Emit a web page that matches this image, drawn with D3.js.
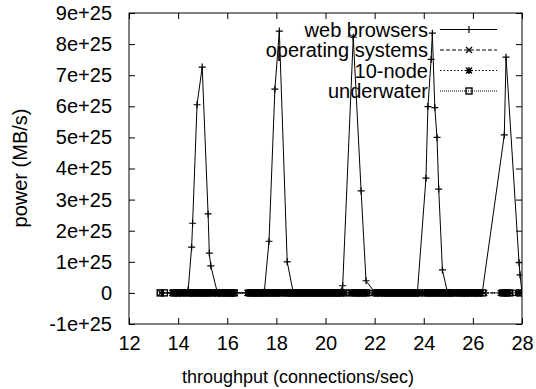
<!DOCTYPE html>
<html><head><meta charset="utf-8">
<script src="https://cdn.jsdelivr.net/npm/d3@7"></script>
<style>body{margin:0;background:#fff;} text{font-family:"Liberation Sans",Arial,sans-serif;}</style>
</head><body>
<svg id="chart" width="536" height="389"></svg>
<script>
const seriesNames = ["web browsers", "operating systems", "10-node", "underwater"];
const xTicks = [12, 14, 16, 18, 20, 22, 24, 26, 28];
const yTicks = [-1e25, 0, 1e25, 2e25, 3e25, 4e25, 5e25, 6e25, 7e25, 8e25, 9e25];
const yTickLabels = ["-1e+25", "0", "1e+25", "2e+25", "3e+25", "4e+25", "5e+25", "6e+25", "7e+25", "8e+25", "9e+25"];

// web browsers (x, value in units of 1e25)
const webX = [13.35, 13.80, 13.92, 14.05, 14.18, 14.30, 14.41, 14.55, 14.59, 14.77, 14.98, 15.22, 15.27, 15.33, 15.60, 15.72, 15.86, 16.00, 16.12, 16.26,
  16.84, 16.98, 17.12, 17.26, 17.40, 17.51, 17.70, 17.94, 18.12, 18.44, 18.69, 18.80, 18.94, 19.08, 19.22, 19.36, 19.50, 19.64, 19.78, 19.92, 20.06, 20.20, 20.34, 20.48, 20.56,
  20.70, 21.13, 21.45, 21.65, 22.02, 22.16, 22.30, 22.44, 22.58, 22.72, 22.86, 23.00, 23.14, 23.28, 23.42, 23.56, 23.74,
  24.09, 24.17, 24.30, 24.35, 24.45, 24.54, 24.61, 24.76, 24.97, 25.10, 25.24, 25.38, 25.52, 25.66, 25.80, 25.94, 26.08, 26.22, 26.38,
  27.28, 27.35, 27.88, 27.92, 28.00];
const webY = [0, 0, 0, 0, 0, 0, 0.10, 1.47, 2.24, 6.05, 7.26, 2.54, 1.28, 0.87, 0, 0, 0, 0, 0, 0,
  0, 0, 0, 0, 0, 0.04, 1.66, 6.55, 8.42, 1.00, 0, 0, 0, 0, 0, 0, 0, 0, 0, 0, 0, 0, 0, 0, 0,
  0.23, 8.22, 3.28, 0.39, 0, 0, 0, 0, 0, 0, 0, 0, 0, 0, 0, 0, 0,
  3.69, 5.99, 7.51, 8.35, 5.96, 5.00, 3.34, 0.74, 0, 0, 0, 0, 0, 0, 0, 0, 0, 0, 0,
  5.08, 7.58, 0.97, 0.58, 0];

const osX = [13.30, 13.78, 13.90, 14.02, 14.14, 14.32, 14.45, 14.58, 14.72, 14.86, 15.00, 15.14, 15.28, 15.40, 15.55, 15.70, 15.85, 16.00, 16.15, 16.30,
  16.82, 16.95, 17.08, 17.22, 17.36, 17.50, 17.64, 17.78, 17.92, 18.06, 18.20, 18.30, 18.44, 18.58, 18.72, 18.86, 19.00, 19.14, 19.28, 19.42, 19.56, 19.70, 19.84, 19.98,
  20.12, 20.26, 20.40, 20.54, 20.64, 20.80, 21.03, 21.17, 21.31, 21.45, 21.59, 21.71, 21.96, 22.18, 22.32, 22.46, 22.60, 22.74, 22.88, 23.02, 23.16, 23.30, 23.44, 23.58,
  23.72, 23.84, 24.00, 24.14, 24.28, 24.42, 24.56, 24.70, 24.84, 24.98, 25.12, 25.25, 25.37, 25.51, 25.65, 25.78, 25.98, 26.12, 26.26, 26.46, 27.13, 27.27, 27.41, 27.55, 27.81, 27.97];
const osY = osX.map(() => 0);

const nodeX = [13.76, 13.95, 14.10, 14.20, 14.36, 14.50, 14.64, 14.78, 14.92, 15.06, 15.20, 15.34, 15.52, 15.66, 15.80, 15.94, 16.08, 16.22,
  16.86, 17.00, 17.14, 17.28, 17.42, 17.56, 17.70, 17.84, 17.98, 18.12, 18.35, 18.49, 18.63, 18.77, 18.91, 19.05, 19.19, 19.33, 19.47, 19.61, 19.75, 19.89,
  20.03, 20.17, 20.31, 20.45, 20.60, 20.75, 21.08, 21.22, 21.36, 21.50, 21.64, 22.00, 22.14, 22.36, 22.50, 22.64, 22.78, 22.92, 23.06, 23.20, 23.34, 23.48, 23.62,
  23.78, 24.04, 24.18, 24.32, 24.46, 24.60, 24.74, 24.88, 25.02, 25.16, 25.40, 25.54, 25.68, 25.85, 26.02, 26.16, 26.32, 27.18, 27.32, 27.46, 27.85];
const nodeY = nodeX.map(() => 0);

const waterX = [13.27, 13.44, 13.82, 13.98, 14.16, 14.40, 14.54, 14.68, 14.82, 14.96, 15.10, 15.24, 15.38, 15.58, 15.74, 15.90, 16.04, 16.18, 16.28,
  16.90, 17.04, 17.18, 17.32, 17.46, 17.60, 17.74, 17.88, 18.02, 18.16, 18.40, 18.54, 18.68, 18.82, 18.96, 19.10, 19.24, 19.38, 19.52, 19.66, 19.80, 19.94,
  20.08, 20.22, 20.36, 20.50, 20.62, 20.84, 21.12, 21.26, 21.40, 21.54, 21.68, 22.06, 22.20, 22.40, 22.54, 22.68, 22.82, 22.96, 23.10, 23.24, 23.38, 23.52, 23.66,
  23.82, 24.08, 24.22, 24.36, 24.50, 24.64, 24.78, 24.92, 25.06, 25.20, 25.44, 25.58, 25.72, 25.88, 26.06, 26.20, 26.40, 27.22, 27.36, 27.50, 27.90];
const waterY = waterX.map(() => 0);

const svg = d3.select("#chart");
const L = 129, R = 522, T = 13, B = 324;
const x = d3.scaleLinear().domain([12, 28]).range([L, R]);
const y = d3.scaleLinear().domain([-1e25, 9e25]).range([B, T]);
const FS = 20;

svg.append("defs").append("clipPath").attr("id", "clip")
  .append("rect").attr("x", L).attr("y", T).attr("width", R - L).attr("height", B - T);

// axes with inward ticks (mirrored)
const tl = 6;
const gx = svg.append("g").attr("transform", `translate(0,${B})`)
  .call(d3.axisBottom(x).tickValues(xTicks).tickFormat(d3.format("d")).tickSizeInner(-tl).tickSizeOuter(0).tickPadding(tl + 6));
const gxt = svg.append("g").attr("transform", `translate(0,${T})`)
  .call(d3.axisTop(x).tickValues(xTicks).tickFormat("").tickSizeInner(-tl).tickSizeOuter(0));
const gy = svg.append("g").attr("transform", `translate(${L},0)`)
  .call(d3.axisLeft(y).tickValues(yTicks).tickFormat((d, i) => yTickLabels[i]).tickSizeInner(-tl).tickSizeOuter(0).tickPadding(tl + 11));
const gyr = svg.append("g").attr("transform", `translate(${R},0)`)
  .call(d3.axisRight(y).tickValues(yTicks).tickFormat("").tickSizeInner(-tl).tickSizeOuter(0));
[gx, gxt, gy, gyr].forEach(g => {
  g.select(".domain").remove();
  g.selectAll("line").attr("stroke", "#000");
  g.selectAll("text").attr("font-size", FS).attr("fill", "#000").attr("font-family", "Liberation Sans, Arial, sans-serif");
});
gx.selectAll("text").attr("dy", "0.71em");

svg.append("rect").attr("x", L).attr("y", T).attr("width", R - L).attr("height", B - T)
  .attr("fill", "none").attr("stroke", "#000").attr("stroke-width", 1);

// axis titles
svg.append("text").attr("x", 298).attr("y", 383).attr("text-anchor", "middle")
  .attr("font-size", 18).text("throughput (connections/sec)");
svg.append("text").attr("transform", "translate(27,168) rotate(-90)").attr("text-anchor", "middle")
  .attr("font-size", FS).text("power (MB/s)");

// marker helpers
function marker(g, type, cx, cy) {
  const s = 3.5;
  if (type === "plus") {
    g.append("path").attr("d", `M${cx - s},${cy}H${cx + s}M${cx},${cy - s}V${cy + s}`).attr("stroke", "#000").attr("stroke-width", 1.2).attr("fill", "none");
  } else if (type === "cross") {
    g.append("path").attr("d", `M${cx - 3},${cy - 3}L${cx + 3},${cy + 3}M${cx - 3},${cy + 3}L${cx + 3},${cy - 3}`).attr("stroke", "#000").attr("stroke-width", 1.3).attr("fill", "none");
  } else if (type === "star") {
    g.append("path").attr("d", `M${cx - s},${cy}H${cx + s}M${cx},${cy - s}V${cy + s}M${cx - 3},${cy - 3}L${cx + 3},${cy + 3}M${cx - 3},${cy + 3}L${cx + 3},${cy - 3}`).attr("stroke", "#000").attr("stroke-width", 1.3).attr("fill", "none");
  } else if (type === "square") {
    g.append("rect").attr("x", cx - 3).attr("y", cy - 3).attr("width", 6).attr("height", 6).attr("stroke", "#000").attr("stroke-width", 1.4).attr("fill", "none");
  }
}

const series = [
  { name: seriesNames[0], xs: webX, ys: webY, dash: null, mk: "plus" },
  { name: seriesNames[1], xs: osX, ys: osY, dash: "4,2", mk: "cross" },
  { name: seriesNames[2], xs: nodeX, ys: nodeY, dash: "1.5,2", mk: "star" },
  { name: seriesNames[3], xs: waterX, ys: waterY, dash: "1,1", mk: "square" }
];

const plot = svg.append("g").attr("clip-path", "url(#clip)");
const line = d3.line().x(d => x(d[0])).y(d => y(d[1] * 1e25));
series.slice().reverse().forEach(s => {
  const pts = s.xs.map((v, i) => [v, s.ys[i]]);
  const g = plot.append("g");
  g.append("path").attr("d", line(pts)).attr("fill", "none").attr("stroke", "#000").attr("stroke-width", 1)
    .attr("stroke-dasharray", s.dash);
  pts.forEach(p => marker(g, s.mk, x(p[0]), y(p[1] * 1e25)));
});

// legend
const legY = [29.5, 50, 70.5, 91];
series.forEach((s, i) => {
  const g = svg.append("g");
  g.append("text").attr("x", 428).attr("y", legY[i]).attr("dy", "0.35em").attr("text-anchor", "end")
    .attr("font-size", FS).text(s.name);
  g.append("line").attr("x1", 440).attr("x2", 497).attr("y1", legY[i]).attr("y2", legY[i])
    .attr("stroke", "#000").attr("stroke-dasharray", s.dash);
  marker(g, s.mk, 469, legY[i]);
});
</script>
</body></html>
